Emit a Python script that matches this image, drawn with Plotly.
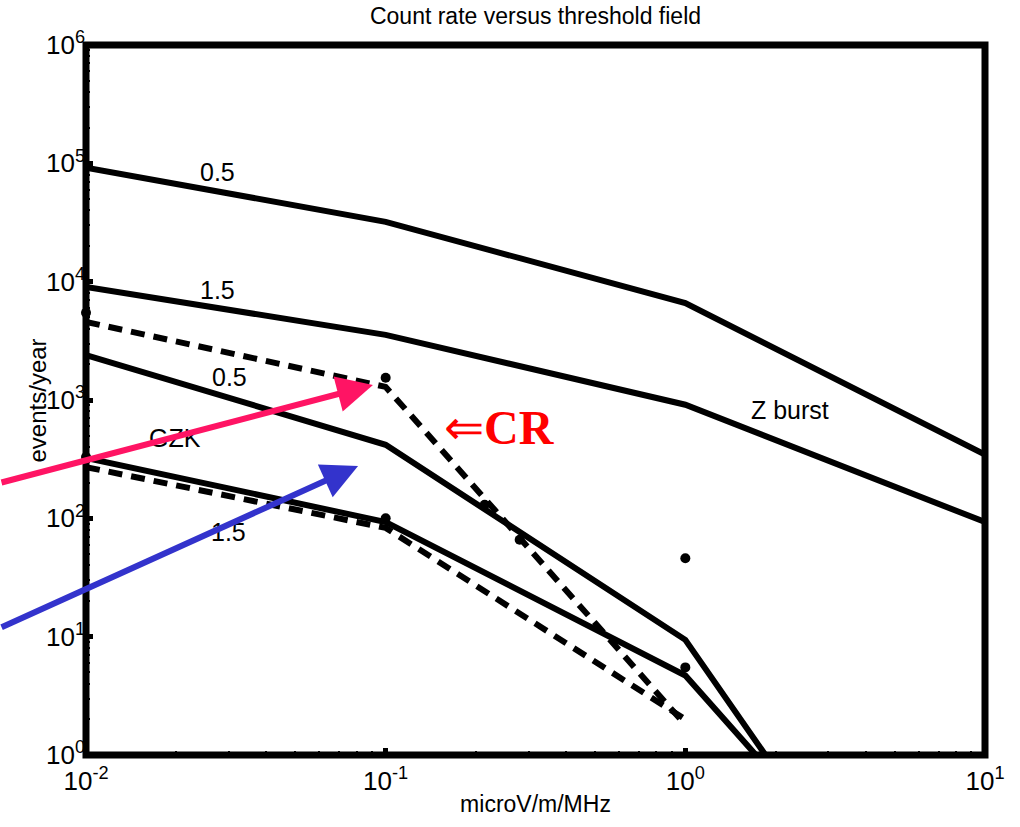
import math
import plotly.graph_objects as go

# ---- data ----
x_pts = [0.01, 0.1, 1, 10]
zb_05 = [92000, 32000, 6600, 346]
zb_15 = [9040, 3550, 912, 93]

gzk_x = [0.01, 0.1, 1, 1.85]
gzk_05 = [2400, 418, 9.4, 1]
gzk15_x = [0.01, 0.1, 1, 1.72]
gzk_15 = [324, 93, 4.7, 1]

cr_x = [0.01, 0.1, 1]
cr_upper = [4570, 1290, 1.8]
cr_lower = [271, 83, 2.0]

dots_x = [0.01, 0.01, 0.1, 0.1, 0.214, 0.28, 1, 1]
dots_y = [5470, 330, 1540, 100, 130, 66, 46, 5.5]

xtick_vals = [0.01, 0.1, 1, 10]
xtick_text = ["10<sup>-2</sup>", "10<sup>-1</sup>", "10<sup>0</sup>", "10<sup>1</sup>"]
ytick_vals = [1, 10, 100, 1000, 1e4, 1e5, 1e6]
ytick_text = ["10<sup>%d</sup>" % i for i in range(7)]

label_text = ["0.5", "1.5", "0.5", "GZK", "1.5", "Z burst"]
label_x = [0.0275, 0.0275, 0.0302, 0.0198, 0.0298, 2.23]
label_y = [85000, 8560, 1567, 478, 76.8, 825]

fig = go.Figure()
solid = dict(color="black", width=6)
dashed = dict(color="black", width=6, dash="14px,9px")

fig.add_trace(go.Scatter(x=x_pts, y=zb_05, mode="lines", line=solid))
fig.add_trace(go.Scatter(x=x_pts, y=zb_15, mode="lines", line=solid))
fig.add_trace(go.Scatter(x=gzk_x, y=gzk_05, mode="lines", line=solid))
fig.add_trace(go.Scatter(x=gzk15_x, y=gzk_15, mode="lines", line=solid))
fig.add_trace(go.Scatter(x=cr_x, y=cr_upper, mode="lines", line=dashed))
fig.add_trace(go.Scatter(x=cr_x, y=cr_lower, mode="lines", line=dashed))
fig.add_trace(go.Scatter(x=dots_x, y=dots_y, mode="markers",
                         marker=dict(color="black", size=10), cliponaxis=False))

lab_font = dict(family="Liberation Sans, Arial", size=25, color="black")
for t, xx, yy in zip(label_text, label_x, label_y):
    fig.add_annotation(x=math.log10(xx), y=math.log10(yy), text=t, showarrow=False,
                       font=lab_font)

fig.add_annotation(x=math.log10(0.24), y=math.log10(581), showarrow=False,
                   text="⇐<b>CR</b>",
                   font=dict(family="Liberation Serif, Times New Roman", size=48, color="red"))

# arrows (tip in data coords, tail offsets in pixels)
fig.add_annotation(x=math.log10(0.0907), y=math.log10(1342), ax=-373, ay=98,
                   text="", showarrow=True, arrowhead=2, arrowsize=1.2,
                   arrowwidth=6, arrowcolor="#FF1464", standoff=0)
fig.add_annotation(x=math.log10(0.0809), y=math.log10(277), ax=-358, ay=162,
                   text="", showarrow=True, arrowhead=2, arrowsize=1.2,
                   arrowwidth=6, arrowcolor="#3333CC", standoff=0)

# y axis title
title_font = dict(family="Liberation Sans, Arial", size=23, color="black")
fig.add_annotation(xref="paper", yref="paper", x=-0.0712, y=0.5, text="events/year",
                   textangle=-90, showarrow=False,
                   font=dict(family="Liberation Sans, Arial", size=24, color="black"))

fig.add_shape(type="rect", xref="paper", yref="paper", x0=0, y0=0, x1=1, y1=1,
              line=dict(color="black", width=7))

tick_font = dict(family="Liberation Sans, Arial", size=26, color="black")
minor = dict(ticks="inside", ticklen=4, tickwidth=2, tickcolor="black", dtick="D1", showgrid=False)
fig.update_xaxes(type="log", range=[-2, 1], tickvals=xtick_vals, ticktext=xtick_text,
                 ticks="inside", ticklen=7, tickwidth=5, tickcolor="black",
                 showgrid=False, zeroline=False, tickfont=tick_font, minor=minor,
                 ticklabelstandoff=8,
                 title=dict(text="microV/m/MHz", font=title_font, standoff=0),
                 mirror=True, showline=False)
fig.update_yaxes(type="log", range=[0, 6], tickvals=ytick_vals, ticktext=ytick_text,
                 ticks="inside", ticklen=7, tickwidth=5, tickcolor="black",
                 showgrid=False, zeroline=False, tickfont=tick_font, minor=minor,
                 mirror=True, showline=False)

fig.update_layout(
    width=1020, height=827,
    margin=dict(l=86, r=35, t=45, b=72),
    plot_bgcolor="white", paper_bgcolor="white",
    showlegend=False,
    title=dict(text="Count rate versus threshold field", x=0.525, xanchor="center",
               y=0.99, yanchor="top", font=title_font),
)
fig.write_html("out.html")
